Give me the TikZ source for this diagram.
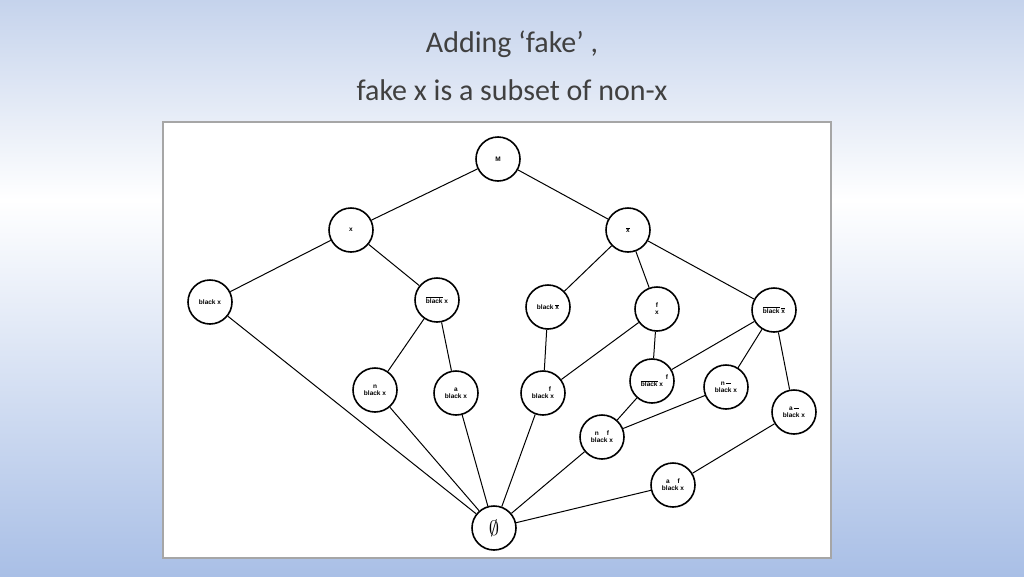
\documentclass[tikz,border=0pt]{standalone}
\usepackage{fontspec}
\setmainfont{Carlito}
\newfontfamily\lbl{Liberation Sans}
\newcommand{\ob}[1]{$\overline{\hbox{#1}}$}
\newcommand{\shortbar}{\rule[0.5ex]{5pt}{0.7pt}}
\begin{document}
\begin{tikzpicture}[x=1pt,y=-1pt,
  vert/.style={circle,draw,line width=1.6pt,minimum size=44pt,inner sep=0pt,fill=white,align=center,font=\lbl\fontsize{6.5}{7}\selectfont\bfseries},
  edge/.style={line width=1pt}]
\useasboundingbox (0,0) rectangle (1024,576);
\shade[top color={rgb,255:red,197;green,211;blue,236},bottom color=white] (0,0) rectangle (1024,200);
\shade[top color=white,bottom color={rgb,255:red,169;green,191;blue,230}] (0,200) rectangle (1024,576);
\node[font=\fontsize{30}{36}\selectfont,color={rgb,255:red,64;green,64;blue,64}] (t1) at (512,44) {Adding ‘fake’ ,};
\node[font=\fontsize{30}{36}\selectfont,color={rgb,255:red,64;green,64;blue,64}] (t2) at (512,90) {fake x is a subset of non-x};
\draw[fill=white,draw=gray!70,line width=1.2pt] (163,122) rectangle (831,558);
\node[vert] (M) at (498,159) {M};
\node[vert] (x) at (351,230) {x};
\node[vert] (xb) at (628,230) {\ob{x}};
\node[vert] (bx) at (210,302) {black x};
\node[vert] (bxb) at (437,300) {\ob{black} x};
\node[vert] (bxb2) at (548,307) {black \ob{x}};
\node[vert] (fx) at (657,309) {f\\x};
\node[vert] (bbb) at (774,310) {\ob{black} \ob{x}};
\node[vert] (nbx) at (375,390) {n\\black x};
\node[vert] (abx) at (456,393) {a\\black x};
\node[vert] (fbx) at (543,393) {\hspace*{14pt}f\\black x};
\node[vert] (fbarbx) at (652,381) {\hspace*{30pt}f\\\ob{black} x};
\node[vert] (nbar) at (726,387) {n\,\shortbar\\black x};
\node[vert] (abar) at (794,412) {a\,\shortbar\\black x};
\node[vert] (nf) at (602,437) {n\hspace{8pt}f\\black x};
\node[vert] (af) at (673,485) {a\hspace{8pt}f\\black x};
\node[vert,font=\fontsize{20}{20}\selectfont] (E) at (494,528) {$\emptyset$};
\foreach \a/\b in {M/x,M/xb,x/bx,x/bxb,xb/bxb2,xb/fx,xb/bbb,bx/E,bxb/nbx,bxb/abx,bxb2/fbx,fx/fbx,fx/fbarbx,bbb/fbarbx,bbb/nbar,bbb/abar,nbx/E,abx/E,fbx/E,fbarbx/nf,nbar/nf,nf/E,abar/af,af/E}
  \draw[edge] (\a) -- (\b);
\end{tikzpicture}
\end{document}
